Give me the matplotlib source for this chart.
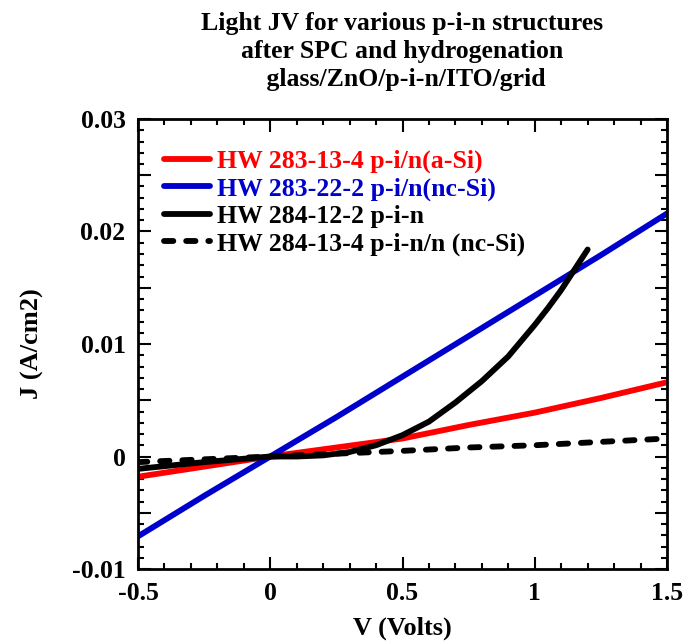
import matplotlib
matplotlib.use("Agg")
import matplotlib.pyplot as plt
from matplotlib.ticker import MultipleLocator, FuncFormatter

# ---- data ----
v_red = [-0.5, -0.25, 0.0, 0.25, 0.5, 0.75, 1.0, 1.25, 1.5]
j_red = [-0.0018, -0.0009, 0.0, 0.0008, 0.0016, 0.0028, 0.0039, 0.0052, 0.0066]

v_blue = [-0.5, -0.25, 0.0, 0.25, 0.5, 0.75, 1.0, 1.25, 1.5]
j_blue = [-0.0071, -0.0035, 0.0, 0.0035, 0.0071, 0.0107, 0.0143, 0.0179, 0.0216]

v_black = [-0.5, -0.25, 0.0, 0.1, 0.2, 0.3, 0.4, 0.5, 0.6, 0.7, 0.8, 0.9, 1.0,
           1.05, 1.1, 1.15, 1.2]
j_black = [-0.0011, -0.0005, 0.0, 0.0, 0.0001, 0.0004, 0.0010, 0.0019, 0.0031, 0.0048,
           0.0067, 0.0089, 0.0117, 0.0132, 0.0148, 0.0166, 0.0184]

v_dash = [-0.5, -0.25, 0.0, 0.25, 0.5, 0.75, 1.0, 1.25, 1.5]
j_dash = [-0.0005, -0.00025, 0.0, 0.00025, 0.0005, 0.0008, 0.0010, 0.0013, 0.0016]

labels = ["HW 283-13-4 p-i/n(a-Si)", "HW 283-22-2 p-i/n(nc-Si)",
          "HW 284-12-2 p-i-n", "HW 284-13-4 p-i-n/n (nc-Si)"]
title = "Light JV for various p-i-n structures\nafter SPC and hydrogenation\n glass/ZnO/p-i-n/ITO/grid"

plt.rcParams['font.family'] = ['Liberation Serif', 'DejaVu Serif']
plt.rcParams['font.weight'] = 'bold'

fig = plt.figure(figsize=(6.85, 6.43), dpi=100)
ax = fig.add_axes([138/685, 74/643, 529/685, 450/643])

lw = 4.2
ax.plot(v_red, j_red, color='#ff0000', lw=lw, label=labels[0], solid_capstyle='round')
ax.plot(v_blue, j_blue, color='#0000cc', lw=lw, label=labels[1], solid_capstyle='round')
ax.plot(v_black, j_black, color='black', lw=lw, label=labels[2], solid_capstyle='round',
        solid_joinstyle='round')
ax.plot(v_dash, j_dash, color='black', lw=lw, ls=(0, (1.6, 2.2)), label=labels[3],
        dash_capstyle='round')

ax.set_xlim(-0.5, 1.5)
ax.set_ylim(-0.01, 0.03)
ax.xaxis.set_major_locator(MultipleLocator(0.5))
ax.xaxis.set_minor_locator(MultipleLocator(0.1))
ax.yaxis.set_major_locator(MultipleLocator(0.005))
ax.yaxis.set_minor_locator(MultipleLocator(0.001))


def xfmt(v, pos):
    return "0" if abs(v) < 1e-9 else ("%g" % v)


def yfmt(v, pos):
    k = round(v / 0.005)
    if k % 2:
        return ""
    return "0" if k == 0 else "%.2f" % v


ax.xaxis.set_major_formatter(FuncFormatter(xfmt))
ax.yaxis.set_major_formatter(FuncFormatter(yfmt))
ax.tick_params(which='both', direction='in', top=True, right=True, width=1.5)
ax.tick_params(which='major', length=9, labelsize=18.5, pad=9)
ax.tick_params(which='minor', length=4.5)
for s in ax.spines.values():
    s.set_linewidth(2)

ax.set_xlabel("V (Volts)", fontsize=19, fontweight='bold', labelpad=9)
ax.set_ylabel("J (A/cm2)", fontsize=19, fontweight='bold', labelpad=20)
ax.set_title(title, fontsize=18.5, fontweight='bold', pad=24, linespacing=1.28)

leg = ax.legend(loc='upper left', bbox_to_anchor=(0.03, 0.955), frameon=False,
                fontsize=18.5, handlelength=1.8, handletextpad=0.25,
                labelspacing=0.17, labelcolor='linecolor', borderaxespad=0)
for t in leg.get_texts():
    t.set_fontweight('bold')

fig.savefig("out.png", dpi=100)
